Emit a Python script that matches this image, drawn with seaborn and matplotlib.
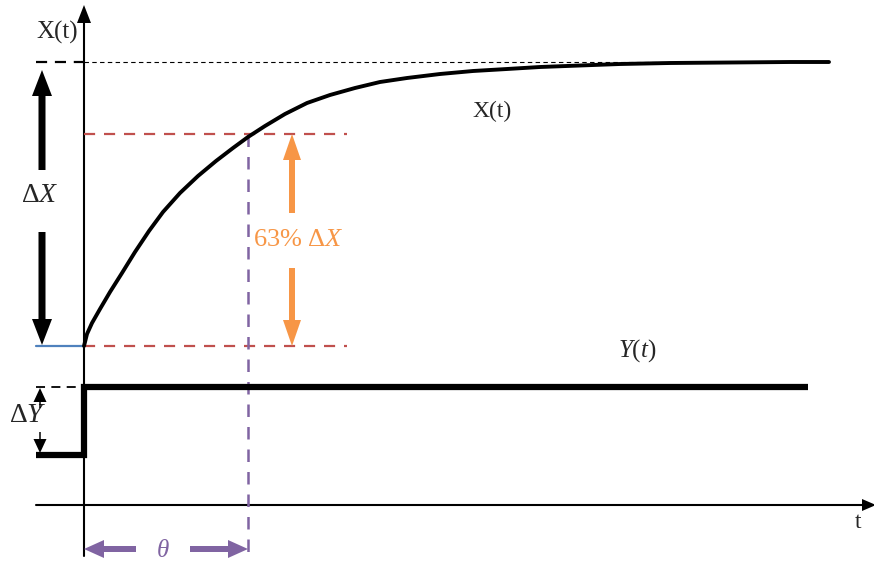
import matplotlib
matplotlib.use("Agg")
import matplotlib.pyplot as plt
import seaborn as sns
import pandas as pd

sns.set_theme(style="white")
plt.rcParams["font.family"] = ["Liberation Serif", "DejaVu Serif"]
plt.rcParams["mathtext.fontset"] = "custom"
plt.rcParams["mathtext.rm"] = "Liberation Serif"
plt.rcParams["mathtext.it"] = "Liberation Serif:italic"

# Response X(t) (diagram coordinates, y grows downward)
curve_t = [84, 87, 92, 100, 110, 122, 135, 149, 163, 180, 198, 216, 233, 248, 265, 285,
           307, 330, 355, 380, 407, 440, 473, 507, 540, 580, 620, 670, 730, 790, 829]
curve_x = [346, 334, 323, 309, 292, 273, 252, 231, 212, 193, 176, 161, 148, 137, 126, 114,
           103, 95, 88, 82, 78, 74, 71, 69, 67, 65.5, 64, 63, 62.5, 62, 62]

# Step input Y(t)
step_t = [36, 84, 84, 808]
step_y = [455, 455, 387, 387]

# Reference levels
x_origin = 84
x_final = 62
x_start = 346
x_63 = 134
y_high = 387
theta_t = 248
axis_y = 505

ORANGE = "#F79646"
RED = "#C0504D"
PURPLE = "#8064A2"
BLUE = "#4F81BD"

fig = plt.figure(figsize=(8.74, 5.62), dpi=100)
ax = fig.add_axes([0, 0, 1, 1])


def arrow(tail, tip, color, width, hw, hl, z=5):
    ax.arrow(tail[0], tail[1], tip[0] - tail[0], tip[1] - tail[1],
             width=width, head_width=hw, head_length=hl,
             length_includes_head=True, lw=0, color=color, zorder=z)


# axes with arrowheads
ax.plot([x_origin, x_origin], [556, 20], color="black", lw=1.5)
arrow((x_origin, 22), (x_origin, 5), "black", 1.5, 14, 18)
ax.plot([36, 862], [axis_y, axis_y], color="black", lw=1.5)
arrow((862, axis_y), (876, axis_y), "black", 1.5, 12, 14)

# reference lines
ax.plot([36, x_origin], [x_final, x_final], color="black", lw=1.6, ls=(0, (5, 3.5)))
ax.plot([x_origin, 830], [x_final, x_final], color="black", lw=0.8, ls=(0, (4, 3)))
ax.plot([36, x_origin], [y_high, y_high], color="black", lw=1.3, ls=(0, (5, 3.5)))
ax.plot([36, x_origin], [x_start, x_start], color=BLUE, lw=1.6)
ax.plot([x_origin, 347], [x_63, x_63], color=RED, lw=1.6, ls=(0, (5, 4)))
ax.plot([x_origin, 347], [x_start, x_start], color=RED, lw=1.6, ls=(0, (5, 4)))
ax.plot([theta_t, theta_t], [x_63, 556], color=PURPLE, lw=1.8, ls=(0, (5, 4)))

# curves
df_x = pd.DataFrame({"t": curve_t, "x": curve_x})
sns.lineplot(data=df_x, x="t", y="x", ax=ax, color="black", lw=2.8,
             sort=False, estimator=None, solid_joinstyle="round")
df_y = pd.DataFrame({"t": step_t, "y": step_y})
sns.lineplot(data=df_y, x="t", y="y", ax=ax, color="black", lw=4.5,
             sort=False, estimator=None, solid_joinstyle="miter",
             solid_capstyle="butt")

# delta X arrows
arrow((42, 170), (42, 70), "black", 7, 20, 26)
arrow((42, 232), (42, 345), "black", 7, 20, 26)
# delta Y arrows
arrow((40, 408), (40, 388), "black", 1.5, 13, 14)
arrow((40, 432), (40, 453), "black", 1.5, 13, 14)
# 63% arrows
arrow((292, 213), (292, 134), ORANGE, 6, 18, 26)
arrow((292, 268), (292, 346), ORANGE, 6, 18, 26)
# theta arrows
arrow((136, 549), (84, 549), PURPLE, 6, 18, 20)
arrow((190, 549), (248, 549), PURPLE, 6, 18, 20)

# labels
ax.text(57, 32, "X(t)", fontsize=18, ha="center", va="center")
ax.text(492, 111, "X(t)", fontsize=17, ha="center", va="center")
ax.text(858, 523, "t", fontsize=17, ha="center", va="center")
ax.text(40, 195, r"$\Delta X$", fontsize=20, ha="center", va="center")
ax.text(28, 416, r"$\Delta Y$", fontsize=20, ha="center", va="center")
ax.text(637, 351, r"$Y(t)$", fontsize=18, ha="center", va="center")
ax.text(298, 240, r"63% $\Delta X$", fontsize=19, ha="center", va="center", color=ORANGE)
ax.text(163, 551, r"$\theta$", fontsize=18, ha="center", va="center", color=PURPLE)

ax.set_xlim(0, 874)
ax.set_ylim(562, 0)
ax.axis("off")

fig.savefig("out.png", dpi=100)
